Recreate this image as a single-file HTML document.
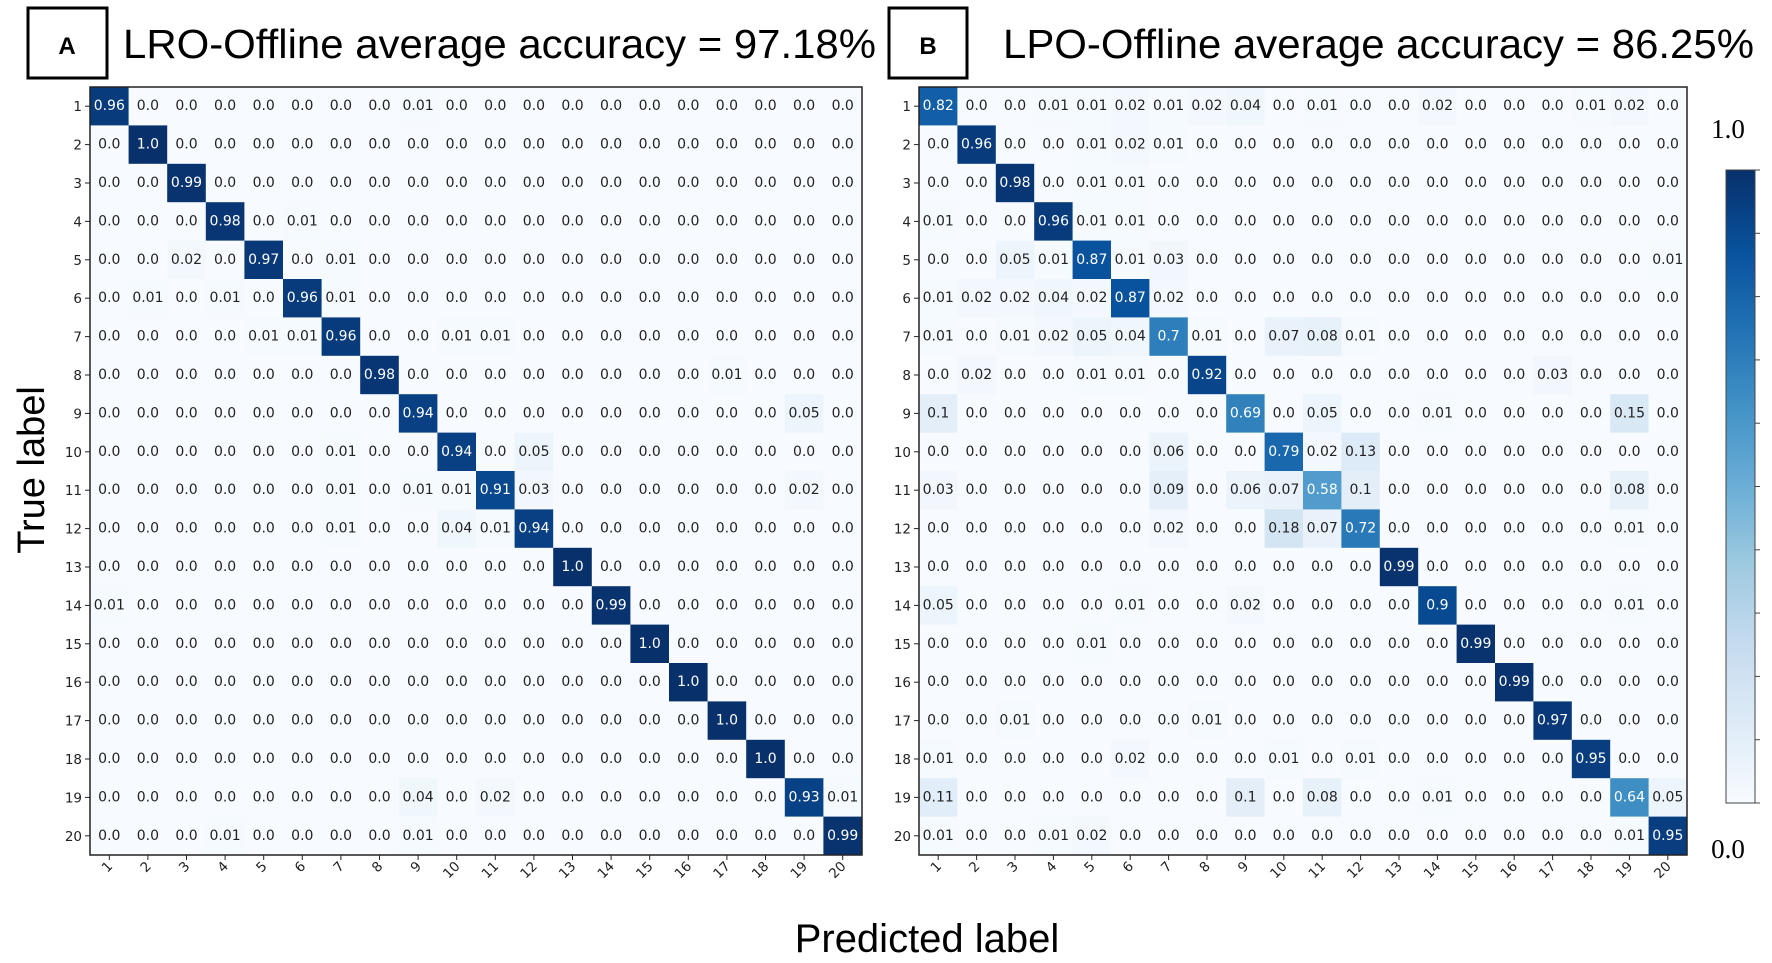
<!DOCTYPE html>
<html><head><meta charset="utf-8"><style>
html,body{margin:0;padding:0;background:#fff;}
svg{display:block;font-family:"DejaVu Sans","Liberation Sans",sans-serif;}
</style></head><body>
<svg id="fig" width="1772" height="963" viewBox="0 0 1772 963">
<defs><linearGradient id="cbg" x1="0" y1="1" x2="0" y2="0">
<stop offset="0" stop-color="#f7fbff"/><stop offset="0.125" stop-color="#deebf7"/><stop offset="0.25" stop-color="#c6dbef"/><stop offset="0.375" stop-color="#9ecae1"/><stop offset="0.5" stop-color="#6baed6"/><stop offset="0.625" stop-color="#4292c6"/><stop offset="0.75" stop-color="#2171b5"/><stop offset="0.875" stop-color="#08519c"/><stop offset="1" stop-color="#08306b"/></linearGradient></defs>
<rect x="28" y="8" width="79" height="70" fill="none" stroke="#000" stroke-width="3"/>
<text x="67" y="54" text-anchor="middle" font-size="24" font-weight="bold" font-family="Liberation Sans">A</text>
<text x="123" y="58" font-size="41" font-family="Liberation Sans" textLength="753" lengthAdjust="spacingAndGlyphs">LRO-Offline average accuracy = 97.18%</text>
<rect x="889" y="8" width="78" height="70" fill="none" stroke="#000" stroke-width="3"/>
<text x="928" y="54" text-anchor="middle" font-size="24" font-weight="bold" font-family="Liberation Sans">B</text>
<text x="1003" y="58" font-size="41" font-family="Liberation Sans" textLength="751" lengthAdjust="spacingAndGlyphs">LPO-Offline average accuracy = 86.25%</text>
<text transform="translate(44,470) rotate(-90)" text-anchor="middle" font-size="38" font-family="Liberation Sans">True label</text>
<text x="927" y="952" text-anchor="middle" font-size="40" font-family="Liberation Sans">Predicted label</text>
<g id="ga"></g>
<g id="gb"></g>
<rect x="1726" y="170" width="29" height="633" fill="url(#cbg)" stroke="#444" stroke-width="1"/>
<text x="1728" y="138" text-anchor="middle" font-size="27" font-family="Liberation Serif">1.0</text>
<text x="1728" y="858" text-anchor="middle" font-size="27" font-family="Liberation Serif">0.0</text>
<g id="cbt"></g>
</svg>
<script>
const labels = ["1","2","3","4","5","6","7","8","9","10","11","12","13","14","15","16","17","18","19","20"];
const matA = [
[0.96,0,0,0,0,0,0,0,0.01,0,0,0,0,0,0,0,0,0,0,0],
[0,1.0,0,0,0,0,0,0,0,0,0,0,0,0,0,0,0,0,0,0],
[0,0,0.99,0,0,0,0,0,0,0,0,0,0,0,0,0,0,0,0,0],
[0,0,0,0.98,0,0.01,0,0,0,0,0,0,0,0,0,0,0,0,0,0],
[0,0,0.02,0,0.97,0,0.01,0,0,0,0,0,0,0,0,0,0,0,0,0],
[0,0.01,0,0.01,0,0.96,0.01,0,0,0,0,0,0,0,0,0,0,0,0,0],
[0,0,0,0,0.01,0.01,0.96,0,0,0.01,0.01,0,0,0,0,0,0,0,0,0],
[0,0,0,0,0,0,0,0.98,0,0,0,0,0,0,0,0,0.01,0,0,0],
[0,0,0,0,0,0,0,0,0.94,0,0,0,0,0,0,0,0,0,0.05,0],
[0,0,0,0,0,0,0.01,0,0,0.94,0,0.05,0,0,0,0,0,0,0,0],
[0,0,0,0,0,0,0.01,0,0.01,0.01,0.91,0.03,0,0,0,0,0,0,0.02,0],
[0,0,0,0,0,0,0.01,0,0,0.04,0.01,0.94,0,0,0,0,0,0,0,0],
[0,0,0,0,0,0,0,0,0,0,0,0,1.0,0,0,0,0,0,0,0],
[0.01,0,0,0,0,0,0,0,0,0,0,0,0,0.99,0,0,0,0,0,0],
[0,0,0,0,0,0,0,0,0,0,0,0,0,0,1.0,0,0,0,0,0],
[0,0,0,0,0,0,0,0,0,0,0,0,0,0,0,1.0,0,0,0,0],
[0,0,0,0,0,0,0,0,0,0,0,0,0,0,0,0,1.0,0,0,0],
[0,0,0,0,0,0,0,0,0,0,0,0,0,0,0,0,0,1.0,0,0],
[0,0,0,0,0,0,0,0,0.04,0,0.02,0,0,0,0,0,0,0,0.93,0.01],
[0,0,0,0.01,0,0,0,0,0.01,0,0,0,0,0,0,0,0,0,0,0.99]];
const matB = [
[0.82,0,0,0.01,0.01,0.02,0.01,0.02,0.04,0,0.01,0,0,0.02,0,0,0,0.01,0.02,0],
[0,0.96,0,0,0.01,0.02,0.01,0,0,0,0,0,0,0,0,0,0,0,0,0],
[0,0,0.98,0,0.01,0.01,0,0,0,0,0,0,0,0,0,0,0,0,0,0],
[0.01,0,0,0.96,0.01,0.01,0,0,0,0,0,0,0,0,0,0,0,0,0,0],
[0,0,0.05,0.01,0.87,0.01,0.03,0,0,0,0,0,0,0,0,0,0,0,0,0.01],
[0.01,0.02,0.02,0.04,0.02,0.87,0.02,0,0,0,0,0,0,0,0,0,0,0,0,0],
[0.01,0,0.01,0.02,0.05,0.04,0.7,0.01,0,0.07,0.08,0.01,0,0,0,0,0,0,0,0],
[0,0.02,0,0,0.01,0.01,0,0.92,0,0,0,0,0,0,0,0,0.03,0,0,0],
[0.1,0,0,0,0,0,0,0,0.69,0,0.05,0,0,0.01,0,0,0,0,0.15,0],
[0,0,0,0,0,0,0.06,0,0,0.79,0.02,0.13,0,0,0,0,0,0,0,0],
[0.03,0,0,0,0,0,0.09,0,0.06,0.07,0.58,0.1,0,0,0,0,0,0,0.08,0],
[0,0,0,0,0,0,0.02,0,0,0.18,0.07,0.72,0,0,0,0,0,0,0.01,0],
[0,0,0,0,0,0,0,0,0,0,0,0,0.99,0,0,0,0,0,0,0],
[0.05,0,0,0,0,0.01,0,0,0.02,0,0,0,0,0.9,0,0,0,0,0.01,0],
[0,0,0,0,0.01,0,0,0,0,0,0,0,0,0,0.99,0,0,0,0,0],
[0,0,0,0,0,0,0,0,0,0,0,0,0,0,0,0.99,0,0,0,0],
[0,0,0.01,0,0,0,0,0.01,0,0,0,0,0,0,0,0,0.97,0,0,0],
[0.01,0,0,0,0,0.02,0,0,0,0.01,0,0.01,0,0,0,0,0,0.95,0,0],
[0.11,0,0,0,0,0,0,0,0.1,0,0.08,0,0,0.01,0,0,0,0,0.64,0.05],
[0.01,0,0,0.01,0.02,0,0,0,0,0,0,0,0,0,0,0,0,0,0.01,0.95]];

const NS="http://www.w3.org/2000/svg";
const stops=[[247,251,255],[222,235,247],[198,219,239],[158,202,225],[107,174,214],[66,146,198],[33,113,181],[8,81,156],[8,48,107]];
function cmap(v){v=Math.max(0,Math.min(1,v));const t=v*8,i=Math.min(7,Math.floor(t)),f=t-i;const a=stops[i],b=stops[i+1];
return "rgb("+a.map((c,k)=>Math.round(c+(b[k]-c)*f)).join(",")+")";}
function fmt(v){return Number.isInteger(v)?v.toFixed(1):String(v);}
function mk(tag,attrs,parent){const e=document.createElementNS(NS,tag);for(const k in attrs)e.setAttribute(k,attrs[k]);parent.appendChild(e);return e;}
function draw(g,mat,x0,y0,w,h,prefix){
  const n=labels.length,cw=w/n,ch=h/n;
  const xs=j=>x0+j*cw, ys=i=>y0+i*ch;
  mat.forEach((row,i)=>row.forEach((v,j)=>{
    const r=mk("rect",{x:xs(j),y:ys(i),width:cw+0.5,height:ch+0.5,fill:cmap(v)},g);
    
    
    const t=mk("text",{x:xs(j)+cw/2,y:ys(i)+ch/2+4,"text-anchor":"middle","font-size":"14",fill:v>0.5?"#fff":"#222"},g);
    
    
    t.textContent=fmt(v);
  }));
  const fr=mk("rect",{x:x0,y:y0,width:w,height:h,fill:"none",stroke:"#222","stroke-width":1.5},g);
  
  
  labels.forEach((l,i)=>{
    const yc=ys(i)+ch/2;
    mk("line",{x1:x0-5,y1:yc,x2:x0,y2:yc,stroke:"#222"},g);
    const t=mk("text",{x:x0-8,y:yc+5,"text-anchor":"end","font-size":"13.5",fill:"#222"},g);
    
    
    t.textContent=l;
    const xc=xs(i)+cw/2;
    mk("line",{x1:xc,y1:y0+h,x2:xc,y2:y0+h+5,stroke:"#222"},g);
    const t2=mk("text",{transform:"translate("+(xc+4)+","+(y0+h+12)+") rotate(-45)","text-anchor":"end","font-size":"13.5",fill:"#222"},g);
    
    
    t2.textContent=l;
  });
}
draw(document.getElementById("ga"),matA,90,87,772,768,"matrix-a");
draw(document.getElementById("gb"),matB,919,87,768,768,"matrix-b");
const cbTicks=[0,0.1,0.2,0.3,0.4,0.5,0.6,0.7,0.8,0.9,1.0];
const cbt=document.getElementById("cbt");
cbTicks.forEach(v=>{const y=803-v*633;mk("line",{x1:1755,y1:y,x2:1760,y2:y,stroke:"#444"},cbt);});
</script>
</body></html>
